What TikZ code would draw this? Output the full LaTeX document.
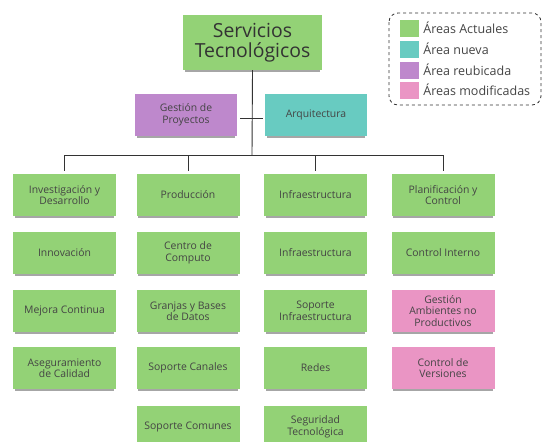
\documentclass[tikz,border=0pt]{standalone}
\usepackage{fontspec}
\usetikzlibrary{shadows}
\setmainfont{Open Sans}
\begin{document}
\definecolor{notegreen}{HTML}{93D276}
\definecolor{noteteal}{HTML}{68CBC1}
\definecolor{notepurple}{HTML}{BE88CC}
\definecolor{notepink}{HTML}{EA95C4}
\definecolor{inkgray}{HTML}{444444}
\definecolor{linegray}{HTML}{333333}
\begin{tikzpicture}[x=1pt,y=-1pt,
  note/.style={minimum width=103pt,minimum height=42pt,inner sep=1pt,align=center,
    text=inkgray,font=\fontsize{10.4}{11.5}\selectfont,
    drop shadow={shadow xshift=0pt,shadow yshift=-3pt,shadow scale=0.97,
      opacity=0.35,fill=black}},
  green/.style={note,fill=notegreen},
  teal/.style={note,fill=noteteal},
  purple/.style={note,fill=notepurple},
  pink/.style={note,fill=notepink},
  link/.style={draw=linegray,line width=0.9pt},
  swatch/.style={minimum width=19pt,minimum height=17pt,inner sep=0pt},
  legtext/.style={anchor=west,inner sep=0pt,text=inkgray,font=\fontsize{12.5}{14}\selectfont}
]
\useasboundingbox (0,0) rectangle (542,442);

% top unit
\node[green,minimum width=139pt,minimum height=55pt,
      font=\fontsize{19.4}{20.5}\selectfont,text=linegray] (top) at (252.5,42.5)
      {Servicios\\Tecnológicos};
\node[purple,minimum width=102pt] (gp) at (186,115) {Gestión de\\Proyectos};
\node[teal,minimum width=102pt] (arq) at (316,115) {Arquitectura};

% bus
\coordinate (busc) at (252,155);
\coordinate (bus1) at (64,155);
\coordinate (bus4) at (443,155);

% column 1
\node[green] (c1r1) at (64.5,195) {Investigación y\\Desarrollo};
\node[green] (c1r2) at (64.5,253) {Innovación};
\node[green] (c1r3) at (64.5,311) {Mejora Continua};
\node[green] (c1r4) at (64.5,368) {Aseguramiento\\de Calidad};
% column 2
\node[green] (c2r1) at (188,195) {Producción};
\node[green] (c2r2) at (188,253) {Centro de\\Computo};
\node[green] (c2r3) at (188,311) {Granjas y Bases\\de Datos};
\node[green] (c2r4) at (188,368) {Soporte Canales};
\node[green] (c2r5) at (188,427) {Soporte Comunes};
% column 3
\node[green] (c3r1) at (315.5,195) {Infraestructura};
\node[green] (c3r2) at (315.5,253) {Infraestructura};
\node[green] (c3r3) at (315.5,311) {Soporte\\Infraestructura};
\node[green] (c3r4) at (315.5,368) {Redes};
\node[green] (c3r5) at (315.5,427) {Seguridad\\Tecnológica};
% column 4
\node[green] (c4r1) at (443,195) {Planificación y\\Control};
\node[green] (c4r2) at (443,253) {Control Interno};
\node[pink] (c4r3) at (443,311) {Gestión\\Ambientes no\\Productivos};
\node[pink] (c4r4) at (443,368) {Control de\\Versiones};

% connectors
\draw[link] (top.south) -- (busc);
\draw[link,shorten <=3pt,shorten >=2pt] ([yshift=-3pt]gp.east) -- ([yshift=-3pt]arq.west);
\draw[link] (bus1) -- (bus4);
\foreach \n in {c1r1,c2r1,c3r1,c4r1}
  \draw[link,shorten >=3pt] (\n.north |- busc) -- (\n.north);

% legend
\draw[linegray,dashed,line width=0.8pt,rounded corners=9pt] (389,13) rectangle (541,105);
\node[swatch,fill=notegreen]  (lg1) at (409.5,28) {};
\node[swatch,fill=noteteal]   (lg2) at (409.5,49) {};
\node[swatch,fill=notepurple] (lg3) at (409.5,70) {};
\node[swatch,fill=notepink]   (lg4) at (409.5,90) {};
\node[legtext] at ([xshift=4pt]lg1.east) {Áreas Actuales};
\node[legtext] at ([xshift=4pt]lg2.east) {Área nueva};
\node[legtext] at ([xshift=4pt]lg3.east) {Área reubicada};
\node[legtext] at ([xshift=4pt]lg4.east) {Áreas modificadas};
\end{tikzpicture}
\end{document}
